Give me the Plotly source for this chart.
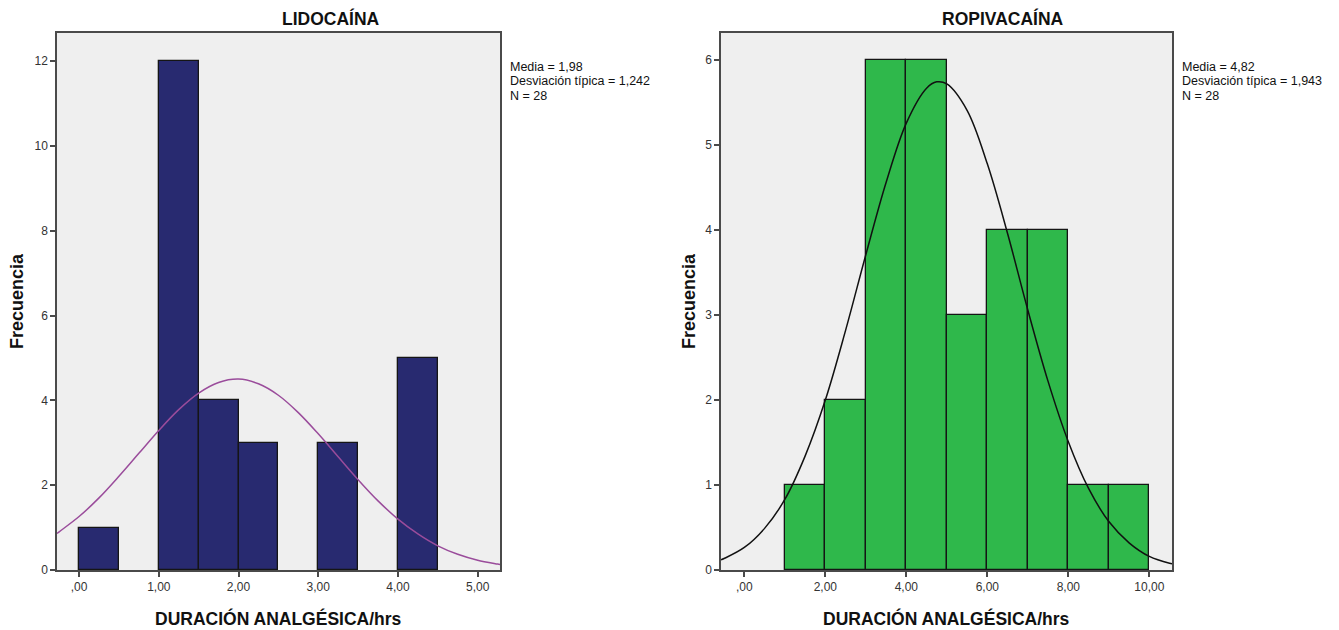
import plotly.graph_objects as go

# ---- Data: LIDOCAÍNA ----
lido_bin_left = [0.0, 1.0, 1.5, 2.0, 3.0, 4.0]
lido_counts = [1, 12, 4, 3, 3, 5]
lido_bin_width = 0.5
lido_curve_x = [-0.277, -0.25, 0.0, 0.25, 0.5, 0.75, 1.0, 1.25, 1.5, 1.75, 2.0, 2.25, 2.5,
                2.75, 3.0, 3.25, 3.5, 3.75, 4.0, 4.25, 4.5, 4.75, 5.0, 5.25, 5.28]
lido_curve_y = [0.86, 0.90, 1.26, 1.70, 2.21, 2.75, 3.29, 3.78, 4.17, 4.42, 4.50, 4.39, 4.12,
                3.71, 3.21, 2.67, 2.13, 1.63, 1.20, 0.85, 0.57, 0.37, 0.23, 0.14, 0.13]
lido_stats = ["Media = 1,98", "Desviación típica = 1,242", "N = 28"]
lido_xticks = [0, 1, 2, 3, 4, 5]
lido_xticktext = [",00", "1,00", "2,00", "3,00", "4,00", "5,00"]
lido_yticks = [0, 2, 4, 6, 8, 10, 12]

# ---- Data: ROPIVACAÍNA ----
ropi_bin_left = [1, 2, 3, 4, 5, 6, 7, 8, 9]
ropi_counts = [1, 2, 6, 6, 3, 4, 4, 1, 1]
ropi_bin_width = 1.0
ropi_curve_x = [-0.576, -0.5, 0.0, 0.5, 1.0, 1.5, 2.0, 2.5, 3.0, 3.5, 4.0, 4.5, 4.75, 5.0, 5.5,
                6.0, 6.5, 7.0, 7.5, 8.0, 8.5, 9.0, 9.5, 10.0, 10.5, 10.56]
ropi_curve_y = [0.12, 0.135, 0.265, 0.49, 0.83, 1.34, 2.00, 2.82, 3.71, 4.56, 5.26, 5.67, 5.745, 5.72, 5.41,
                4.78, 3.96, 3.06, 2.22, 1.51, 0.96, 0.57, 0.32, 0.16, 0.08, 0.075]
ropi_stats = ["Media = 4,82", "Desviación típica = 1,943", "N = 28"]
ropi_xticks = [0, 2, 4, 6, 8, 10]
ropi_xticktext = [",00", "2,00", "4,00", "6,00", "8,00", "10,00"]
ropi_yticks = [0, 1, 2, 3, 4, 5, 6]

W, H = 1339, 630
FONT = "Liberation Sans"
TICKCOL = "#333333"
LINECOL = "#4a4a4a"

fig = go.Figure()

fig.add_trace(go.Bar(
    x=[b + lido_bin_width / 2 for b in lido_bin_left], y=lido_counts,
    width=[lido_bin_width] * len(lido_counts),
    marker=dict(color="#282a70", line=dict(color="#151515", width=1.3)),
    xaxis="x", yaxis="y", showlegend=False, hoverinfo="x+y"))
fig.add_trace(go.Scatter(
    x=lido_curve_x, y=lido_curve_y, mode="lines", line=dict(color="#9a4c9b", width=1.5, shape="spline"),
    xaxis="x", yaxis="y", showlegend=False))

fig.add_trace(go.Bar(
    x=[b + ropi_bin_width / 2 for b in ropi_bin_left], y=ropi_counts,
    width=[ropi_bin_width] * len(ropi_counts),
    marker=dict(color="#2fb84b", line=dict(color="#151515", width=1.3)),
    xaxis="x2", yaxis="y2", showlegend=False, hoverinfo="x+y"))
fig.add_trace(go.Scatter(
    x=ropi_curve_x, y=ropi_curve_y, mode="lines", line=dict(color="#111111", width=1.5, shape="spline"),
    xaxis="x2", yaxis="y2", showlegend=False))

x1 = [57 / W, 500 / W]
x2 = [721 / W, 1172 / W]
ydom = [1 - 570 / H, 1 - 33 / H]

axis_common = dict(showgrid=False, zeroline=False, showline=True, linecolor=LINECOL, linewidth=1.5,
                   mirror=True, ticks="outside", ticklen=5, tickcolor=LINECOL, tickwidth=1.5,
                   tickfont=dict(family=FONT, size=12, color=TICKCOL), automargin=False)

fig.update_layout(
    width=W, height=H, margin=dict(l=0, r=0, t=0, b=0),
    paper_bgcolor="white", plot_bgcolor="#efefef", bargap=0,
    xaxis=dict(domain=x1, range=[-0.277, 5.28], tickvals=lido_xticks, ticktext=lido_xticktext,
               anchor="y", **axis_common),
    yaxis=dict(domain=ydom, range=[0, 12.66], tickvals=lido_yticks, anchor="x", **axis_common),
    xaxis2=dict(domain=x2, range=[-0.576, 10.56], tickvals=ropi_xticks, ticktext=ropi_xticktext,
                anchor="y2", **axis_common),
    yaxis2=dict(domain=ydom, range=[0, 6.32], tickvals=ropi_yticks, anchor="x2", **axis_common),
)

ann = []
# titles
ann.append(dict(text="<b>LIDOCAÍNA</b>", x=331 / W, y=1 - 18 / H, xref="paper", yref="paper",
                xanchor="center", yanchor="middle",
                showarrow=False, font=dict(family=FONT, size=17.5, color="#111111")))
ann.append(dict(text="<b>ROPIVACAÍNA</b>", x=1003 / W, y=1 - 18 / H, xref="paper", yref="paper",
                xanchor="center", yanchor="middle",
                showarrow=False, font=dict(family=FONT, size=17.5, color="#111111")))
# x titles
for cx in [(57 + 500) / 2, (721 + 1172) / 2]:
    ann.append(dict(text="<b>DURACIÓN ANALGÉSICA/hrs</b>", x=cx / W, y=1 - 618 / H, xref="paper", yref="paper",
                    xanchor="center", yanchor="middle",
                    showarrow=False, font=dict(family=FONT, size=17.5, color="#111111")))
# y titles
for cx in [17, 689]:
    ann.append(dict(text="<b>Frecuencia</b>", x=cx / W, y=1 - 301 / H, xref="paper", yref="paper",
                    xanchor="center", yanchor="middle",
                    textangle=-90, showarrow=False, font=dict(family=FONT, size=18, color="#111111")))
# stats (one annotation per line)
for sx, stats in [(508, lido_stats), (1180, ropi_stats)]:
    for i, line in enumerate(stats):
        ann.append(dict(text=line, x=sx / W, y=1 - (67 + 14.5 * i) / H, xref="paper", yref="paper",
                        xanchor="left", yanchor="middle", align="left", showarrow=False,
                        font=dict(family=FONT, size=12.5, color="#111111")))
fig.update_layout(annotations=ann)

fig.write_html("out.html")
